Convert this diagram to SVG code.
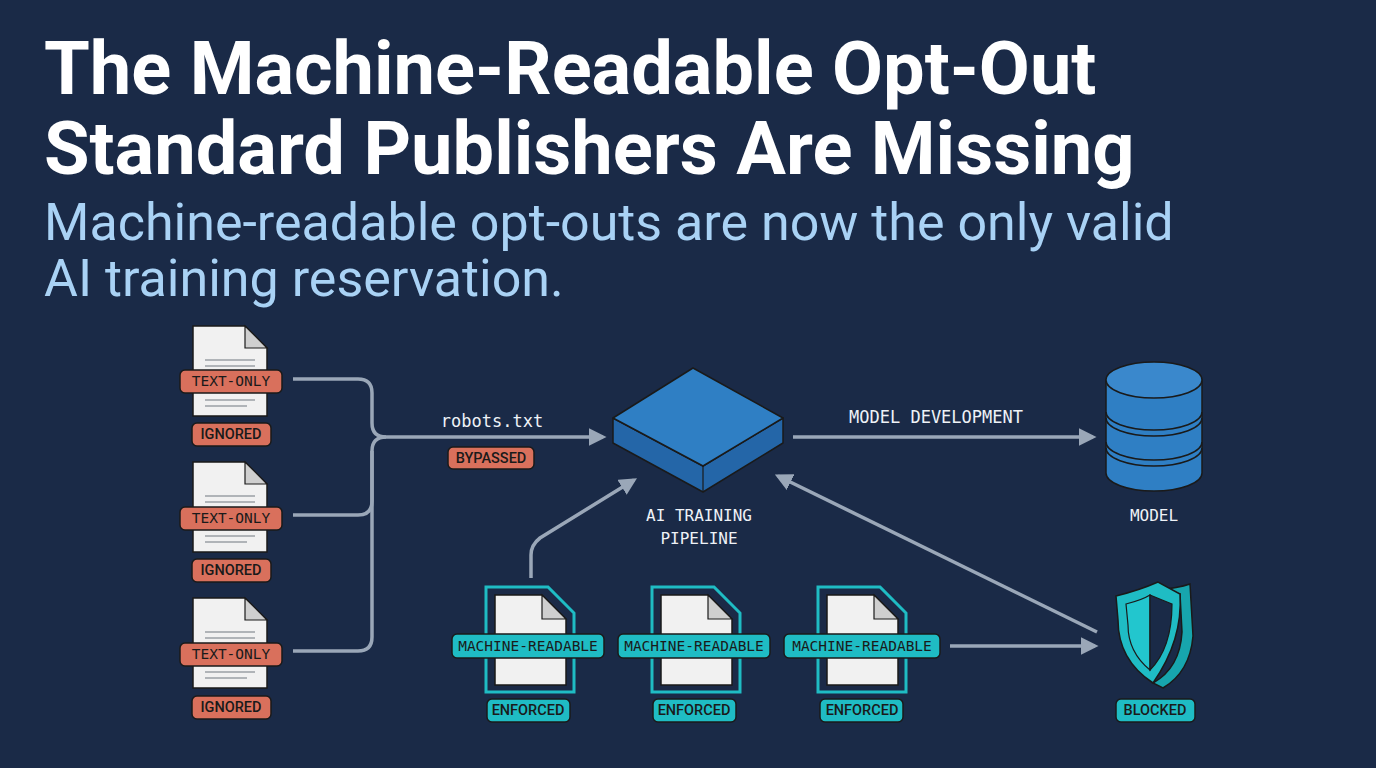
<svg xmlns="http://www.w3.org/2000/svg" width="1376" height="768" viewBox="0 0 1376 768">
<defs>
<style>
.title{font-family:Roboto,"Liberation Sans",sans-serif;font-weight:700;font-size:74px;fill:#fff}
.sub{font-family:Roboto,"Liberation Sans",sans-serif;font-size:52px;fill:#a9d2f5}
.mono{font-family:"DejaVu Sans Mono","Liberation Mono",monospace;fill:#eef2f7}
.tag{font-family:"DejaVu Sans Mono","Liberation Mono",monospace;font-size:14.5px;fill:#1a1a1a;text-anchor:middle}
.stat{font-family:Roboto,"Liberation Sans",sans-serif;font-weight:500;font-size:14.5px;fill:#1a1a1a;text-anchor:middle}
.red{fill:#d9705c;stroke:#1a1a1a;stroke-width:1.5}
.teal{fill:#1fbcc4;stroke:#1a1a1a;stroke-width:1.5}
.paper{fill:#f1f1f1;stroke:#1a1a1a;stroke-width:1.5}
.fold{fill:#cfcfcf;stroke:#1a1a1a;stroke-width:1.2}
.ln{stroke:#b0b4b8;stroke-width:2}
.conn{fill:none;stroke:#9aa7b8;stroke-width:3.5}
</style>
<marker id="ah" viewBox="0 0 10 10" refX="8" refY="5" markerWidth="5" markerHeight="5" orient="auto" markerUnits="strokeWidth"><path d="M0,0L10,5L0,10z" fill="#9aa7b8"/></marker>
<g id="tdoc">
<path class="paper" d="M0,0H52L74,22V90H0Z"/><path class="fold" d="M52,0V22H74Z"/>
<path class="ln" d="M12,34H62M12,40H62M12,74H62M12,80H54"/>
</g>
<g id="mdoc">
<path d="M0,0H62L88,26V105H0Z" fill="#1b2a47" stroke="#1fbcc4" stroke-width="3"/>
<path class="paper" d="M9,8H56L80,32V98H9Z"/><path class="fold" d="M56,8V32H80Z"/>
</g>
</defs>
<rect width="1376" height="768" fill="#1a2a47"/>
<text class="title" x="44" y="94">The Machine-Readable Opt-Out</text>
<text class="title" x="44" y="174">Standard Publishers Are Missing</text>
<text class="sub" x="44" y="240">Machine-readable opt-outs are now the only valid</text>
<text class="sub" x="44" y="296">AI training reservation.</text>

<g id="connectors">
<path class="conn" d="M293,379H358Q372,379 372,393V423Q372,437 386,437H603" marker-end="url(#ah)"/>
<path class="conn" d="M293,515H358Q372,515 372,501V451Q372,437 386,437"/>
<path class="conn" d="M293,651H358Q372,651 372,637V451"/>
<path class="conn" d="M793,437H1093" marker-end="url(#ah)"/>
<path class="conn" d="M531,578V555Q531,545 540,538L634,480" marker-end="url(#ah)"/>
<path class="conn" d="M950,646H1095" marker-end="url(#ah)"/>
<path class="conn" d="M1097,632L778,476" marker-end="url(#ah)"/>
<text class="mono" x="492" y="427" font-size="17" text-anchor="middle">robots.txt</text>
<rect class="red" x="448" y="447" width="86" height="22" rx="5"/><text class="stat" x="491" y="463">BYPASSED</text>
<text class="mono" x="936" y="423" font-size="17" text-anchor="middle">MODEL DEVELOPMENT</text>
</g>

<g id="textdoc1"><use href="#tdoc" x="193" y="326"/><rect class="red" x="180" y="370" width="102" height="23" rx="5"/><text class="tag" x="231" y="386">TEXT-ONLY</text><rect class="red" x="192" y="423" width="79" height="23" rx="5"/><text class="stat" x="231" y="439">IGNORED</text></g>
<g id="textdoc2"><use href="#tdoc" x="193" y="462"/><rect class="red" x="180" y="507" width="102" height="23" rx="5"/><text class="tag" x="231" y="523">TEXT-ONLY</text><rect class="red" x="192" y="559" width="79" height="23" rx="5"/><text class="stat" x="231" y="575">IGNORED</text></g>
<g id="textdoc3"><use href="#tdoc" x="193" y="598"/><rect class="red" x="180" y="643" width="102" height="23" rx="5"/><text class="tag" x="231" y="659">TEXT-ONLY</text><rect class="red" x="192" y="696" width="79" height="23" rx="5"/><text class="stat" x="231" y="712">IGNORED</text></g>

<g id="pipeline">
<path d="M613,418L703,466L783,418V443L703,492L613,443Z" fill="#2466a8" stroke="#1a1a1a" stroke-width="1.5" stroke-linejoin="round"/>
<path d="M703,466V492" stroke="#1a1a1a" stroke-width="1.2"/>
<path d="M693,368L783,418L703,466L613,418Z" fill="#2f7fc4" stroke="#1a1a1a" stroke-width="1.5" stroke-linejoin="round"/>
<text class="mono" x="699" y="521" font-size="16" text-anchor="middle">AI TRAINING</text>
<text class="mono" x="699" y="544" font-size="16" text-anchor="middle">PIPELINE</text>
</g>

<g id="model">
<path d="M1106,380V473A48,18 0 0 0 1202,473V380Z" fill="#2f7fc4" stroke="#1a1a1a" stroke-width="1.5"/>
<path d="M1106,412A48,18 0 0 0 1202,412M1106,418A48,18 0 0 0 1202,418M1106,442A48,18 0 0 0 1202,442M1106,448A48,18 0 0 0 1202,448" fill="none" stroke="#1a1a1a" stroke-width="1.5"/>
<ellipse cx="1154" cy="380" rx="48" ry="18" fill="#3a88cc" stroke="#1a1a1a" stroke-width="1.5"/>
<text class="mono" x="1154" y="521" font-size="16" text-anchor="middle">MODEL</text>
</g>

<g id="mdoc1"><use href="#mdoc" x="486" y="587"/><rect class="teal" x="452" y="634" width="152" height="24" rx="5"/><text class="tag" x="528" y="651">MACHINE-READABLE</text><rect class="teal" x="487" y="699" width="83" height="23" rx="5"/><text class="stat" x="528" y="715">ENFORCED</text></g>
<g id="mdoc2"><use href="#mdoc" x="652" y="587"/><rect class="teal" x="618" y="634" width="152" height="24" rx="5"/><text class="tag" x="694" y="651">MACHINE-READABLE</text><rect class="teal" x="653" y="699" width="83" height="23" rx="5"/><text class="stat" x="694" y="715">ENFORCED</text></g>
<g id="mdoc3"><use href="#mdoc" x="818" y="587"/><rect class="teal" x="784" y="634" width="156" height="24" rx="5"/><text class="tag" x="862" y="651">MACHINE-READABLE</text><rect class="teal" x="820" y="699" width="83" height="23" rx="5"/><text class="stat" x="862" y="715">ENFORCED</text></g>

<g id="blocked">
<path d="M1158,590Q1178,588 1190,584L1193,636Q1190,672 1163,688L1153,683Q1180,668 1182,632L1180,594Z" fill="#17a5ad" stroke="#1a1a1a" stroke-width="1.5"/>
<path d="M1116,596Q1140,590 1158,582L1180,594Q1183,640 1153,683Q1118,660 1118,620Z" fill="#1fbcc4" stroke="#1a1a1a" stroke-width="1.5"/>
<path d="M1126,604Q1142,600 1150,595V670Q1128,652 1128,625Z" fill="#22c6ce" stroke="#1a1a1a" stroke-width="1.2"/>
<path d="M1150,595Q1162,600 1172,604Q1172,648 1150,670Z" fill="#1a2a47" stroke="#1a1a1a" stroke-width="1.2"/>
<rect class="teal" x="1116" y="699" width="79" height="23" rx="5"/><text class="stat" x="1155" y="715">BLOCKED</text>
</g>
</svg>
